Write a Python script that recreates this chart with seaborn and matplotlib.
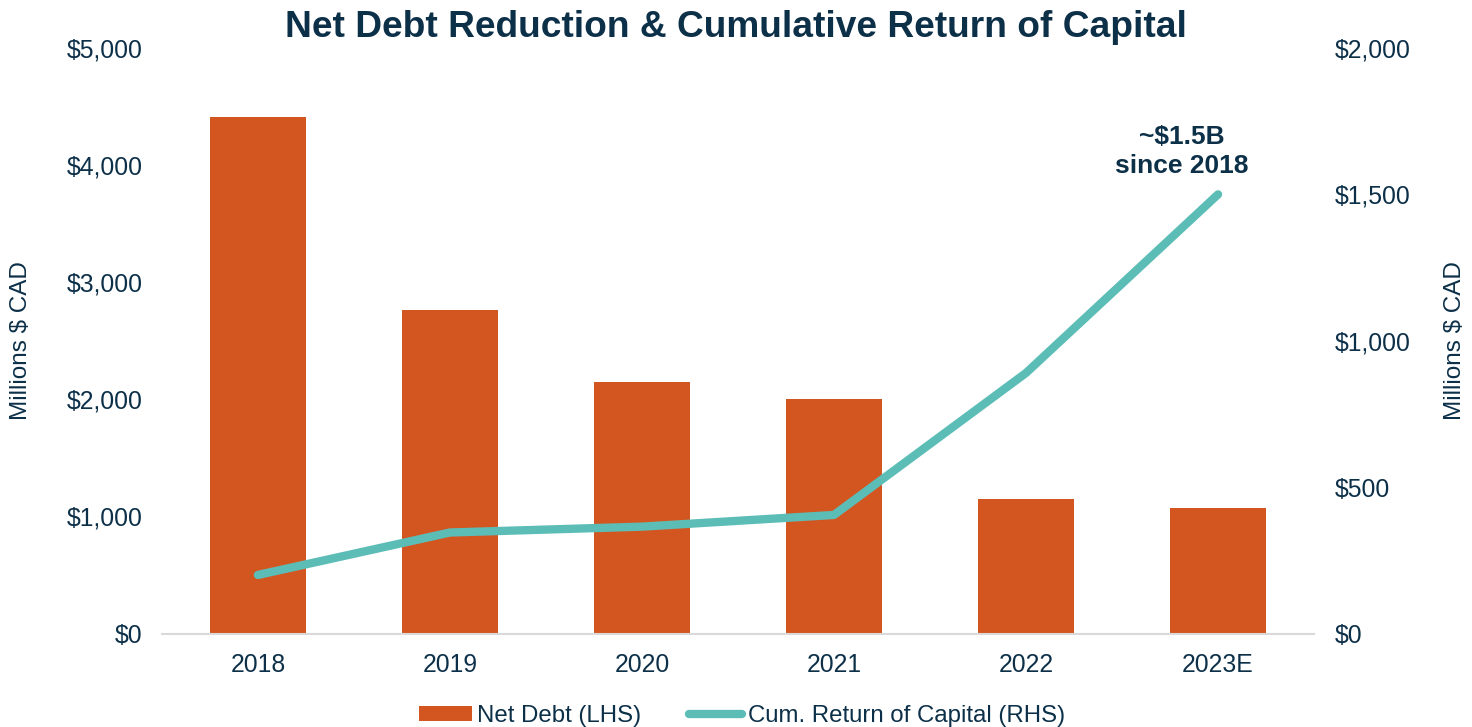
import matplotlib
matplotlib.use("Agg")
import matplotlib.pyplot as plt
from matplotlib.patches import Patch
from matplotlib.lines import Line2D
from matplotlib.ticker import FuncFormatter
import seaborn as sns
import pandas as pd

years = ["2018", "2019", "2020", "2021", "2022", "2023E"]
net_debt = [4410, 2760, 2150, 2000, 1150, 1070]
cum_return = [200, 345, 365, 405, 890, 1500]

BAR = "#D35621"
LINE = "#5BBDB6"
NAVY = "#0D3049"

sns.set_theme(style="white")
plt.rcParams["font.family"] = ["Liberation Sans", "DejaVu Sans"]

df = pd.DataFrame({"year": years, "debt": net_debt, "ret": cum_return})

fig = plt.figure(figsize=(14.72, 7.27), dpi=100)
ax = fig.add_axes([0.110, 0.1286, 0.7827, 0.8054])

sns.barplot(data=df, x="year", y="debt", color=BAR, width=0.5,
            saturation=1, ax=ax, edgecolor="none")
ax.set_ylim(0, 5000)
ax.set_xlim(-0.5, len(years) - 0.5)

ax2 = ax.twinx()
sns.lineplot(data=df, x="year", y="ret", color=LINE, linewidth=6,
             ax=ax2, solid_capstyle="round", solid_joinstyle="round")
ax2.set_ylim(0, 2000)
ax2.set_xlim(-0.5, len(years) - 0.5)

money = FuncFormatter(lambda v, p: f"${v:,.0f}")
ax.yaxis.set_major_formatter(money)
ax2.yaxis.set_major_formatter(money)
ax.set_yticks(range(0, 5001, 1000))
ax2.set_yticks(range(0, 2001, 500))

for a in (ax, ax2):
    for s in a.spines.values():
        s.set_visible(False)
    a.tick_params(axis="both", length=0, labelsize=17.8, labelcolor=NAVY)
ax.spines["bottom"].set_visible(True)
ax.spines["bottom"].set_color("#D9D9D9")
ax.spines["bottom"].set_linewidth(1.5)

ax.tick_params(axis="y", pad=14)
ax2.tick_params(axis="y", pad=15)
ax.tick_params(axis="x", pad=14)

ax.set_xlabel("")
ax.set_ylabel("Millions $ CAD", fontsize=17.5, color=NAVY)
ax2.set_ylabel("Millions $ CAD", fontsize=17.5, color=NAVY)
ax.yaxis.set_label_coords(-0.1128, 0.5)
ax2.yaxis.set_label_coords(1.113, 0.5)

fig.suptitle("Net Debt Reduction & Cumulative Return of Capital",
             x=0.5, y=0.986, fontsize=26.7, fontweight="bold", color=NAVY)

ax2.annotate("~$1.5B\nsince 2018", xy=(5, cum_return[-1]),
             xytext=(-26, 12), textcoords="offset points",
             ha="center", va="bottom", fontsize=19, fontweight="bold",
             color=NAVY, linespacing=1.25)

handles = [
    Patch(facecolor=BAR, edgecolor="none", label="Net Debt (LHS)"),
    Line2D([0], [0], color=LINE, linewidth=6, solid_capstyle="round",
           label="Cum. Return of Capital (RHS)"),
]
fig.legend(handles=handles, loc="lower center", bbox_to_anchor=(0.504, -0.03),
           ncol=2, frameon=False, fontsize=17.3, labelcolor=NAVY,
           handlelength=2.2, handleheight=0.6, handletextpad=0.22,
           columnspacing=2.0)

fig.savefig("out.png", dpi=100)
